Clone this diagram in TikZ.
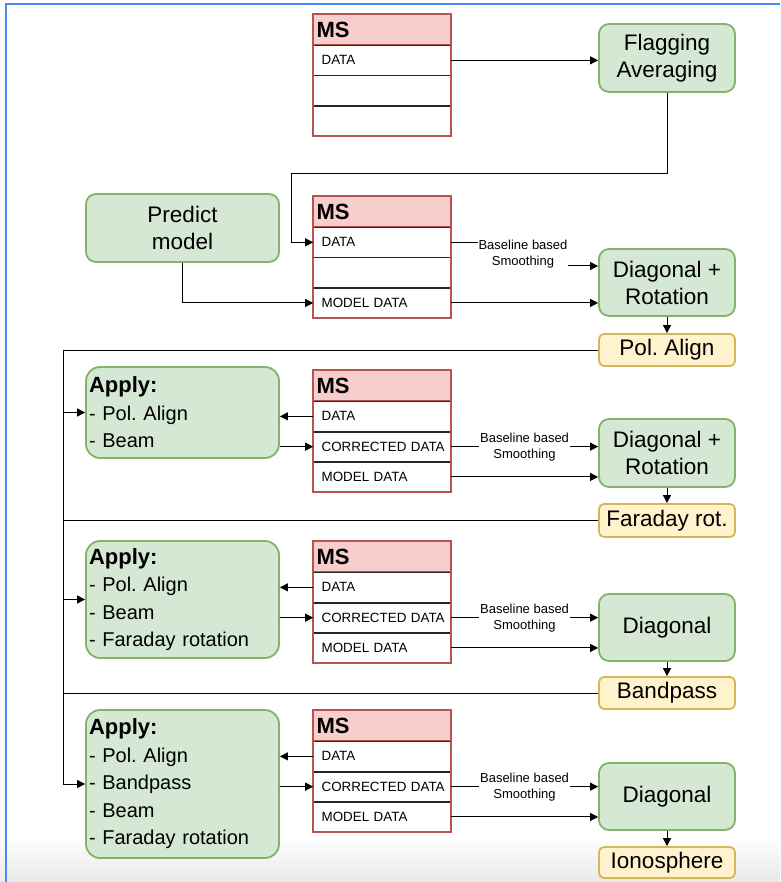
\documentclass[tikz,border=0pt]{standalone}
\usepackage{fontspec}
\setmainfont{Liberation Sans}
\usetikzlibrary{arrows.meta,calc}
\frenchspacing

\definecolor{gfill}{HTML}{D5E8D4}
\definecolor{gline}{HTML}{82B366}
\definecolor{rfill}{HTML}{F8CECC}
\definecolor{rline}{HTML}{B85450}
\definecolor{yfill}{HTML}{FFF2CC}
\definecolor{yline}{HTML}{D6B656}
\definecolor{frameblue}{HTML}{4A8AF4}

\tikzset{
  proc/.style={draw=gline, fill=gfill, rounded corners=10pt, line width=1.8pt,
    minimum width=136pt, align=center, inner sep=2pt,
    font=\fontsize{22.5}{27}\selectfont},
  result/.style={draw=yline, fill=yfill, rounded corners=5pt, line width=1.8pt,
    minimum width=136pt, inner sep=1pt, font=\fontsize{22.5}{26}\selectfont},
  apply/.style={draw=gline, fill=gfill, rounded corners=14pt, line width=1.8pt,
    minimum width=193pt, text width=187pt, align=left, inner xsep=3pt,
    inner ysep=2pt, font=\fontsize{20}{27.5}\selectfont},
  mshead/.style={draw=rline, fill=rfill, line width=1.2pt, minimum width=137pt,
    minimum height=30pt, text width=131pt, inner xsep=3pt, inner ysep=0pt,
    anchor=north west, font=\bfseries\fontsize{22}{24}\selectfont},
  msrow/.style={draw=black!85, fill=white, line width=0.8pt, minimum width=137pt,
    minimum height=29.5pt, text width=129pt, inner xsep=4pt, inner ysep=0pt,
    anchor=north, font=\fontsize{13.4}{15}\selectfont},
  msframe/.style={draw=rline, line width=1.8pt},
  link/.style={line width=1pt, draw=black},
  arr/.style={link, -{Triangle[length=8pt,width=8pt]}},
  note/.style={fill=white, inner sep=1pt, align=center,
    font=\fontsize{13}{16}\selectfont},
}

% measurement-set table: name, top edge, three column labels
\newcommand\mstable[5]{%
  \node[mshead] (#1h) at (313,#2) {MS};
  \node[msrow] (#1a) at (#1h.south) {\hspace*{4pt}#3};
  \node[msrow] (#1b) at (#1a.south) {\hspace*{4pt}#4};
  \node[msrow] (#1c) at (#1b.south) {\hspace*{4pt}#5};
  \draw[msframe] (#1h.north west) rectangle (#1c.south east);
}
\newcommand\applyhead{{\bfseries\fontsize{22}{27.5}\selectfont Apply:}}

\begin{document}
\begin{tikzpicture}[x=1pt, y=-1pt]
\useasboundingbox (0,0) rectangle (780,882);
\fill[white] (0,0) rectangle (780,882);
\shade[top color=white, bottom color=black!9] (0,836) rectangle (780,882);
\draw[frameblue, line width=1.5pt] (6,882) -- (6,4) -- (780,4);

% ---- tables ----
\mstable{t1}{14}{DATA}{}{}
\mstable{t2}{196}{DATA}{}{MODEL DATA}
\mstable{t3}{370}{DATA}{CORRECTED DATA}{MODEL DATA}
\mstable{t4}{541}{DATA}{CORRECTED DATA}{MODEL DATA}
\mstable{t5}{710}{DATA}{CORRECTED DATA}{MODEL DATA}

% ---- processing steps ----
\node[proc, minimum height=68pt] (flag) at (667,58) {Flagging\\Averaging};
\node[proc, minimum width=193pt, minimum height=68pt] (predict) at (182.5,228) {Predict\\model};
\node[proc, minimum height=67pt] (diag1) at (667,282.5) {Diagonal +\\Rotation};
\node[result, minimum height=32pt] (pol) at (667,350) {Pol. Align};

\node[apply, minimum height=91pt] (apply1) at (182.5,412.5) {\applyhead\\- Pol. Align\\- Beam};
\node[proc, minimum height=68pt] (diag2) at (667,453) {Diagonal +\\Rotation};
\node[result, minimum height=33pt] (far) at (667,520.5) {Faraday rot.};

\node[apply, minimum height=117pt] (apply2) at (182.5,599.5) {\applyhead\\- Pol. Align\\- Beam\\- Faraday rotation};
\node[proc, minimum height=67pt] (diag3) at (667,627.5) {Diagonal};
\node[result, minimum height=32pt] (band) at (667,693) {Bandpass};

\node[apply, minimum height=148pt] (apply3) at (182.5,784) {\applyhead\\- Pol. Align\\- Bandpass\\- Beam\\- Faraday rotation};
\node[proc, minimum height=67pt] (diag4) at (667,796.5) {Diagonal};
\node[result, minimum height=31pt] (iono) at (667,862.5) {Ionosphere};

\coordinate (trunk) at (63,350);
\coordinate (bend) at (291,174);

% ---- first block ----
\draw[arr] (t1a.east) -- (t1a.east -| flag.west);
\draw[arr] (flag.south) |- (bend) |- (t2a.west);
\draw[arr] (predict.south) |- (t2c.west);
\draw[arr] (t2a.east) -- ++(74,0) |- ($(diag1.west)+(0,-16.5)$);
\node[note] (n1) at (523,254) {Baseline based\\Smoothing};
\draw[arr] (t2c.east) -- (t2c.east -| diag1.west);
\draw[arr] (diag1.south) -- (pol.north);

% ---- feedback trunk ----
\draw[arr] (pol.west) -- (trunk) |- (apply3.west);
\draw[link] (far.west) -- (far.west -| trunk);
\draw[link] (band.west) -- (band.west -| trunk);
\draw[arr] (apply1.west -| trunk) -- (apply1.west);
\draw[arr] (apply2.west -| trunk) -- (apply2.west);

% ---- second block ----
\draw[arr] (t3a.west) -- (t3a.west -| apply1.east);
\draw[arr] (t3b.west -| apply1.east) -- (t3b.west);
\draw[arr] (t3b.east) -- (t3b.east -| diag2.west) node[note, midway] (n2) {Baseline based\\Smoothing};
\draw[arr] (t3c.east) -- (t3c.east -| diag2.west);
\draw[arr] (diag2.south) -- (far.north);

% ---- third block ----
\draw[arr] (t4a.west) -- (t4a.west -| apply2.east);
\draw[arr] (t4b.west -| apply2.east) -- (t4b.west);
\draw[arr] (t4b.east) -- (t4b.east -| diag3.west) node[note, midway] (n3) {Baseline based\\Smoothing};
\draw[arr] (t4c.east) -- (t4c.east -| diag3.west);
\draw[arr] (diag3.south) -- (band.north);

% ---- fourth block ----
\draw[arr] (t5a.west) -- (t5a.west -| apply3.east);
\draw[arr] (t5b.west -| apply3.east) -- (t5b.west);
\draw[arr] (t5b.east) -- (t5b.east -| diag4.west) node[note, midway] (n4) {Baseline based\\Smoothing};
\draw[arr] (t5c.east) -- (t5c.east -| diag4.west);
\draw[arr] (diag4.south) -- (iono.north);
\end{tikzpicture}
\end{document}
